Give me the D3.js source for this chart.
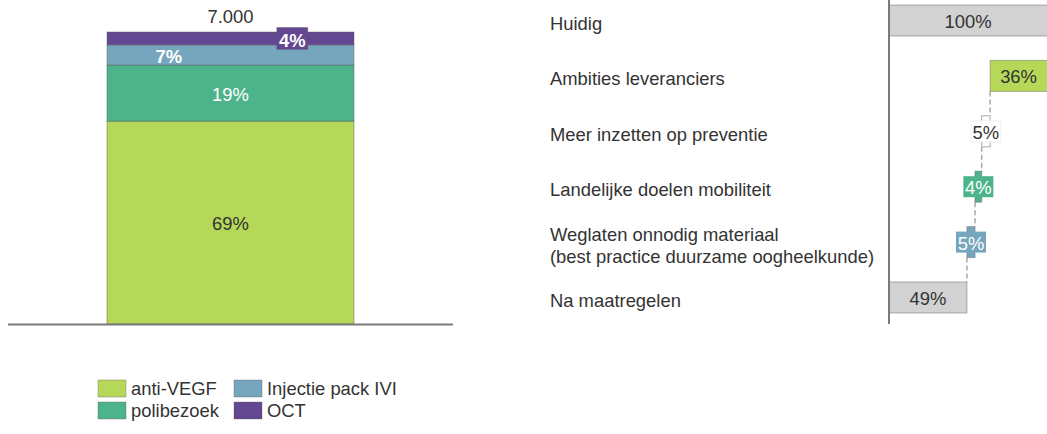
<!DOCTYPE html>
<html>
<head>
<meta charset="utf-8">
<script src="https://cdn.jsdelivr.net/npm/d3@7"></script>
<style>
  body { margin: 0; background: #fff; }
  svg { display: block; font-family: "Liberation Sans", Helvetica, Arial, sans-serif; }
</style>
</head>
<body>
<div id="container"></div>
<script>
// Left chart: share of footprint per component (total 7.000)
const totalLabel = "7.000";
const components = ["anti-VEGF", "polibezoek", "Injectie pack IVI", "OCT"];
const shares = [69.4, 19.2, 6.9, 4.4];

// Right chart: waterfall of measures (in % of current)
const steps = ["Huidig", "Ambities leveranciers", "Meer inzetten op preventie",
  "Landelijke doelen mobiliteit", "Weglaten onnodig materiaal\n(best practice duurzame oogheelkunde)",
  "Na maatregelen"];
const stepValues = [100, 36.4, 5.3, 4.2, 5.1, 49];
const stepTypes = ["total", "delta", "delta", "delta", "delta", "total"];

// Legend order (2 columns)
const legendOrder = ["anti-VEGF", "Injectie pack IVI", "polibezoek", "OCT"];

const width = 1047;
const height = 434;
const textColor = "#333";
const fontSize = 18.4;

const color = d3.scaleOrdinal()
  .domain(components)
  .range(["#b6d858", "#4db38a", "#76a6bd", "#634791"]);
const stepColor = ["#d2d2d2", "#b6d858", "#ffffff", "#4db38a", "#76a6bd", "#d2d2d2"];

const svg = d3.create("svg").attr("width", width).attr("height", height);
svg.append("rect").attr("width", width).attr("height", height).attr("fill", "#fff");

// ---------- left stacked bar ----------
const total = d3.sum(shares);
const yL = d3.scaleLinear().domain([0, total]).range([324, 32]);
const xL = d3.scaleBand().domain([totalLabel]).range([107, 354]);

const row = {};
components.forEach((c, i) => (row[c] = shares[i]));
const series = d3.stack().keys(components)([row]);

svg.append("g")
  .selectAll("rect")
  .data(series)
  .join("rect")
  .attr("x", xL(totalLabel))
  .attr("width", xL.bandwidth())
  .attr("y", (d) => yL(d[0][1]))
  .attr("height", (d) => yL(d[0][0]) - yL(d[0][1]))
  .attr("fill", (d) => color(d.key))
  .attr("stroke", "rgba(90,90,90,0.45)")
  .attr("stroke-width", 1);

// baseline
svg.append("line")
  .attr("x1", 8).attr("x2", 453)
  .attr("y1", yL(0) + 0.5).attr("y2", yL(0) + 0.5)
  .attr("stroke", "#7a7a7a").attr("stroke-width", 2);

// total label
svg.append("text")
  .attr("x", xL(totalLabel) + xL.bandwidth() / 2)
  .attr("y", yL(total) - 9)
  .attr("text-anchor", "middle")
  .attr("font-size", fontSize)
  .attr("fill", textColor)
  .text(totalLabel);

// segment labels: small segments alternate left/right
const labelPos = { "anti-VEGF": 0.5, polibezoek: 0.5, "Injectie pack IVI": 0.25, OCT: 0.75 };
series.forEach((s) => {
  const v = s[0][1] - s[0][0];
  const cx = xL(totalLabel) + xL.bandwidth() * labelPos[s.key];
  const cy = (yL(s[0][0]) + yL(s[0][1])) / 2;
  const txt = Math.round(v) + "%";
  const small = v < 10;
  if (s.key === "OCT") {
    svg.append("rect")
      .attr("x", cx - 15.5).attr("y", cy - 11)
      .attr("width", 31).attr("height", 22)
      .attr("fill", color(s.key))
      .attr("stroke", "rgba(90,90,90,0.3)");
  }
  svg.append("text")
    .attr("x", cx)
    .attr("y", cy + (small ? 2 : 1))
    .attr("dy", "0.35em")
    .attr("text-anchor", "middle")
    .attr("font-size", fontSize)
    .attr("font-weight", small ? "bold" : "normal")
    .attr("fill", s.key === "anti-VEGF" ? textColor : "#fff")
    .text(txt);
});

// legend
const legend = svg.append("g");
legendOrder.forEach((c, i) => {
  const col = i % 2, r = Math.floor(i / 2);
  const g = legend.append("g").attr("transform", `translate(${98 + col * 136},${380 + r * 22})`);
  g.append("rect")
    .attr("width", 28).attr("height", 17)
    .attr("fill", color(c))
    .attr("stroke", "rgba(90,90,90,0.35)");
  g.append("text")
    .attr("x", 33).attr("y", 9).attr("dy", "0.35em")
    .attr("font-size", fontSize).attr("fill", textColor)
    .text(c);
});

// ---------- right waterfall ----------
const xR = d3.scaleLinear().domain([0, 100]).range([889, 1048]);
const yR = d3.scaleBand().domain(steps).range([5, 313]).paddingInner(0.44).paddingOuter(0);

let level = 0;
const bars = steps.map((s, i) => {
  let x0, x1;
  if (stepTypes[i] === "total") {
    x0 = 0; x1 = stepValues[i]; level = stepValues[i];
  } else {
    x1 = level; x0 = level - stepValues[i]; level = x0;
  }
  return { step: s, value: stepValues[i], type: stepTypes[i], x0, x1, color: stepColor[i] };
});

// dashed connectors (from the left edge of each delta to the next bar)
const conn = svg.append("g");
bars.forEach((b, i) => {
  if (i < 2) return;
  const prev = bars[i - 1];
  conn.append("line")
    .attr("x1", xR(prev.x0)).attr("x2", xR(prev.x0))
    .attr("y1", yR(prev.step) + yR.bandwidth())
    .attr("y2", yR(b.step))
    .attr("stroke", "#a8a8a8").attr("stroke-width", 1.5)
    .attr("stroke-dasharray", "5,3");
});

svg.append("g")
  .selectAll("rect")
  .data(bars)
  .join("rect")
  .attr("x", (d) => xR(d.x0))
  .attr("width", (d) => xR(d.x1) - xR(d.x0))
  .attr("y", (d) => yR(d.step))
  .attr("height", yR.bandwidth())
  .attr("fill", (d) => d.color)
  .attr("stroke", (d) => (d.color === "#ffffff" ? "#aaa" : "rgba(90,90,90,0.45)"))
  .attr("stroke-width", 1);

// value labels
bars.forEach((b) => {
  const wide = xR(b.x1) - xR(b.x0) > 40;
  const cx = (Math.max(xR(b.x0), xR(0)) + Math.min(xR(b.x1), width)) / 2;
  const cy = yR(b.step) + yR.bandwidth() / 2;
  const txt = Math.round(b.value) + "%";
  const dark = b.color === "#d2d2d2" || b.color === "#b6d858" || b.color === "#ffffff";
  if (!wide) {
    svg.append("rect")
      .attr("x", cx - 15).attr("y", cy - 10.5)
      .attr("width", 30).attr("height", 21)
      .attr("fill", b.color)
      .attr("stroke", b.color === "#ffffff" ? "#f0f0f0" : "none");
  }
  svg.append("text")
    .attr("x", cx).attr("y", cy + 1).attr("dy", "0.35em")
    .attr("text-anchor", "middle")
    .attr("font-size", fontSize)
    .attr("fill", dark ? textColor : "#fff")
    .text(txt);
});

// vertical axis line
svg.append("line")
  .attr("x1", 889).attr("x2", 889)
  .attr("y1", 0).attr("y2", 324)
  .attr("stroke", "#7a7a7a").attr("stroke-width", 2);

// category labels
const catLabels = svg.append("g");
steps.forEach((s) => {
  const lines = s.split("\n");
  const cy = yR(s) + yR.bandwidth() / 2 + 3;
  const t = catLabels.append("text")
    .attr("x", 550)
    .attr("font-size", fontSize)
    .attr("fill", textColor);
  lines.forEach((l, j) => {
    t.append("tspan")
      .attr("x", 550)
      .attr("y", cy + (j - (lines.length - 1) / 2) * 22)
      .attr("dy", "0.35em")
      .text(l);
  });
});

document.getElementById("container").append(svg.node());
</script>
</body>
</html>
